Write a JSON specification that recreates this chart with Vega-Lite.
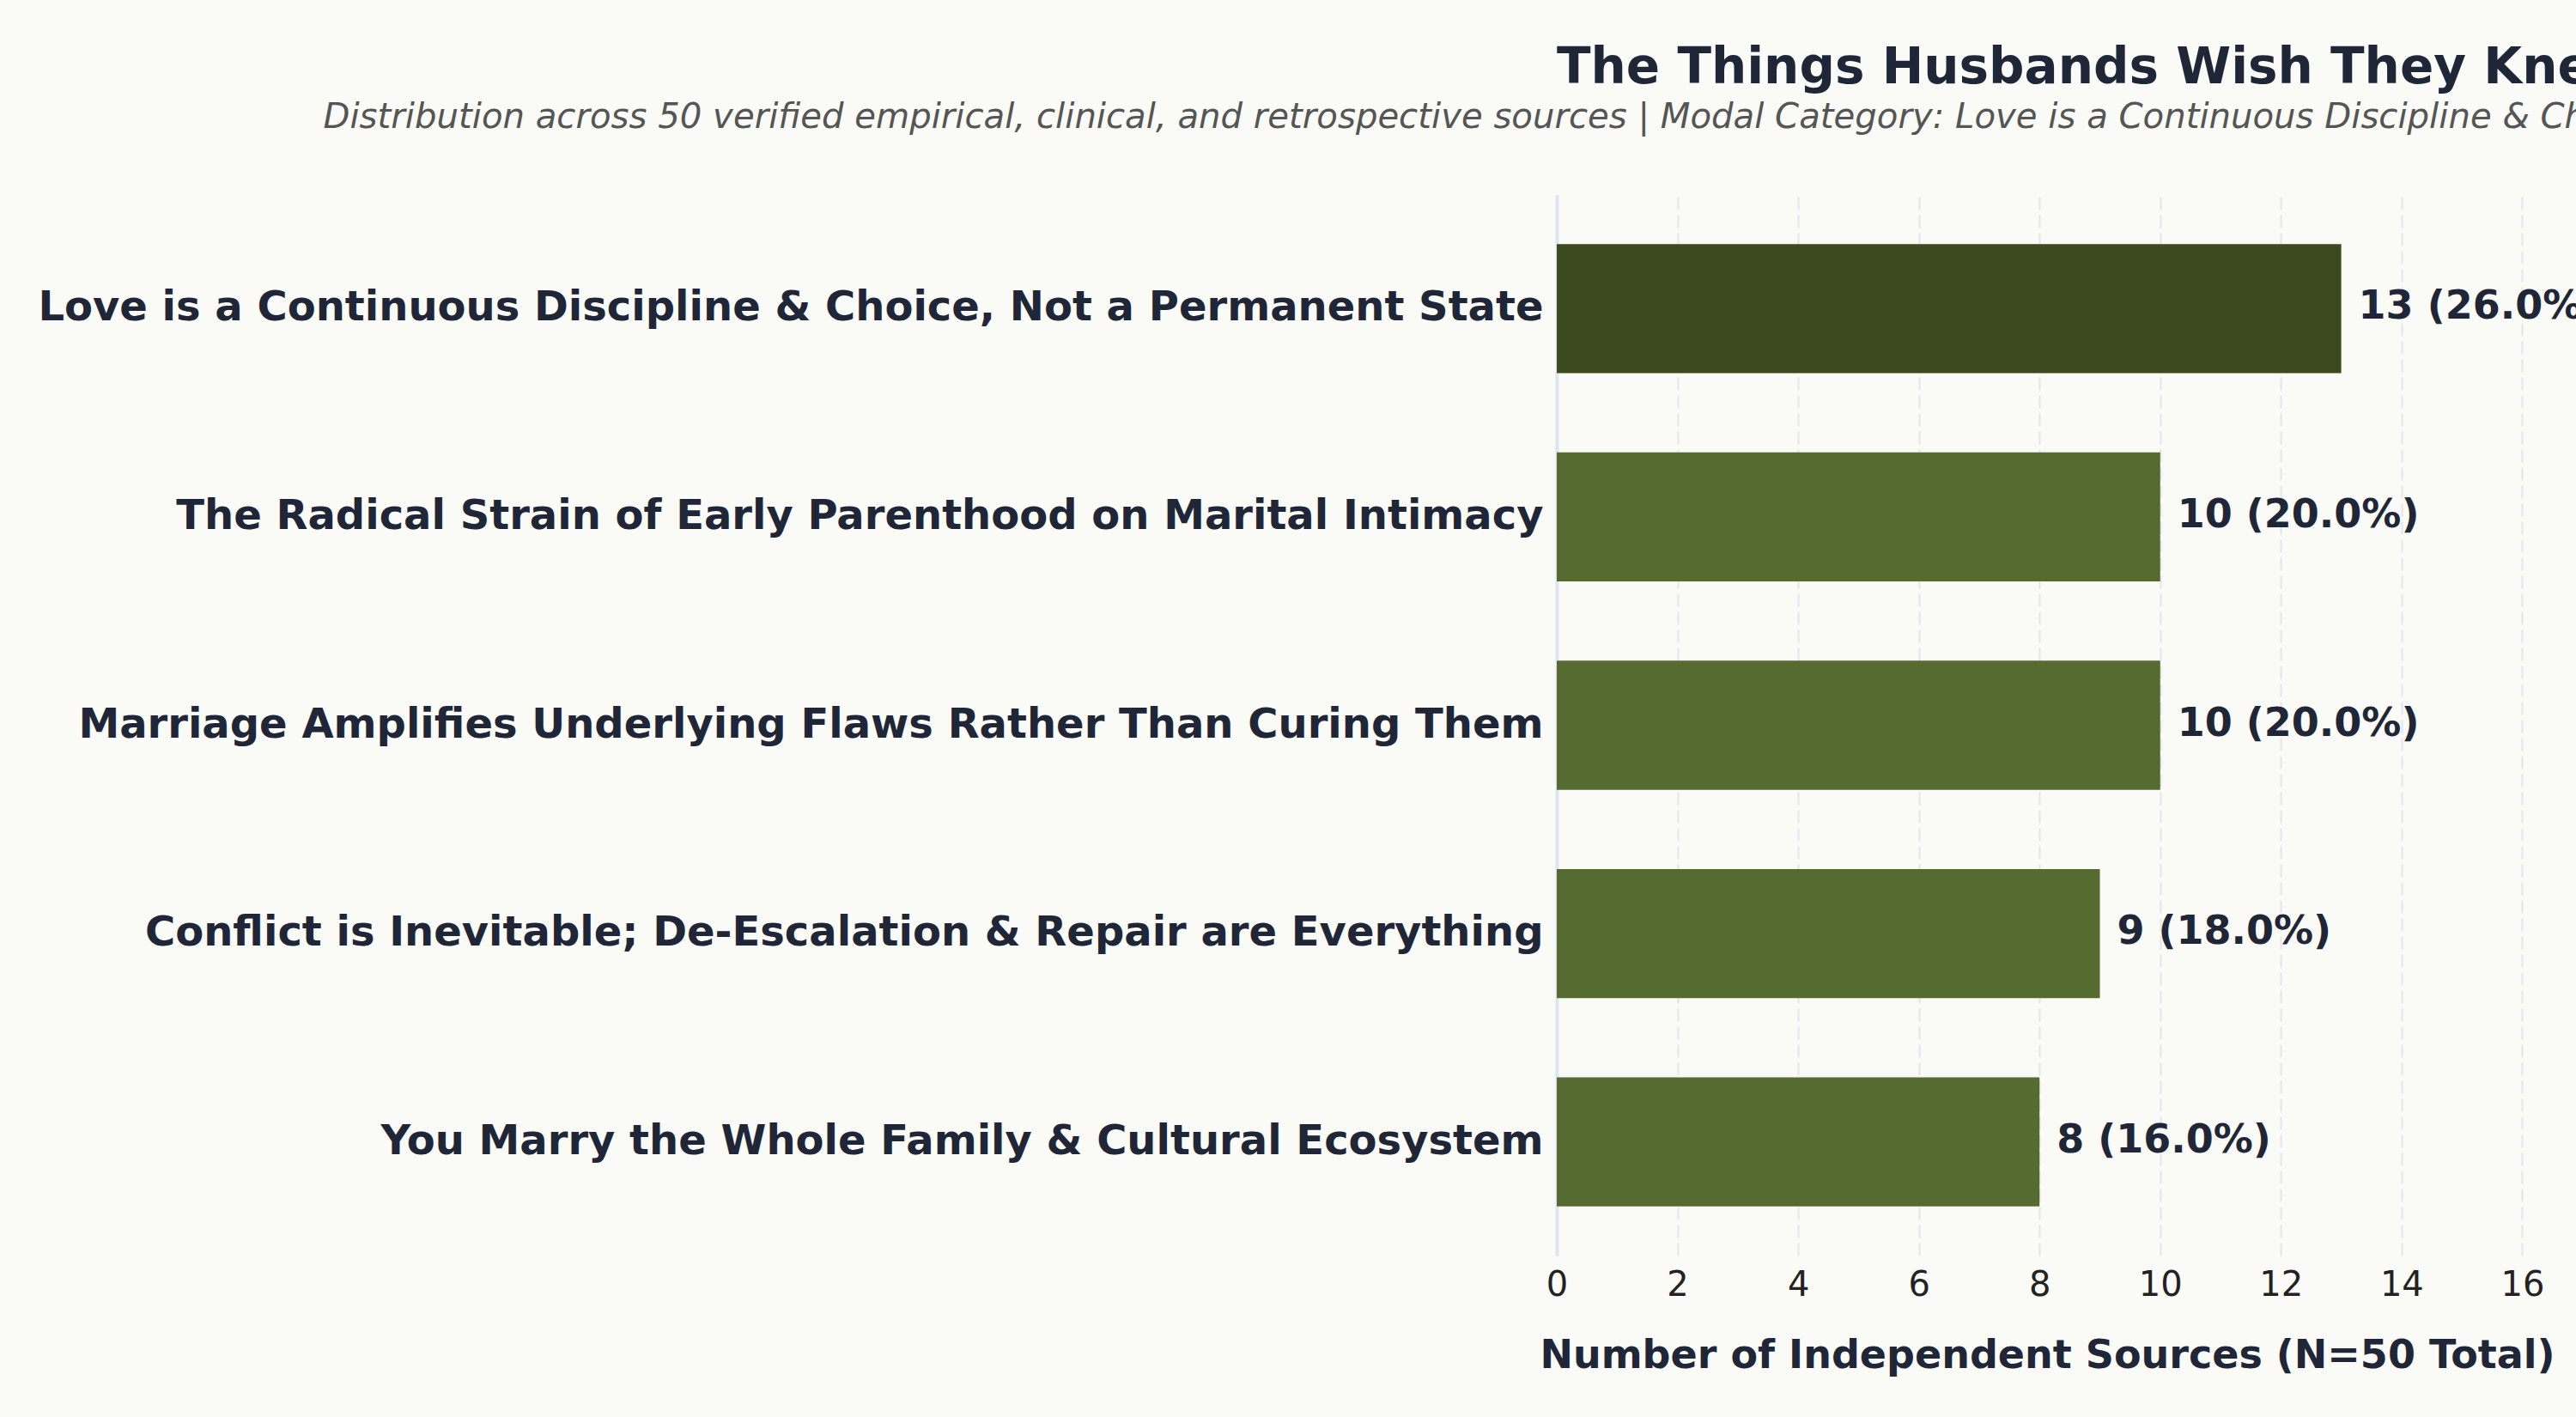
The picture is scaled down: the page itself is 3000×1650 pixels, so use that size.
{
  "$schema": "https://vega.github.io/schema/vega-lite/v6.json",
  "autosize": {"type": "none"},
  "padding": {"left": 1813, "top": 227, "right": 45, "bottom": 188},
  "width": 1142,
  "height": 1235,
  "background": "#fafaf6",
  "title": {
    "text": "The Things Husbands Wish They Knew Before Marriage",
    "anchor": "start",
    "frame": "group",
    "offset": 7,
    "font": "DejaVu Sans",
    "fontSize": 58,
    "fontWeight": "bold",
    "color": "#1f2637"
  },
  "data": {
    "values": [
      {"category": "Love is a Continuous Discipline & Choice, Not a Permanent State", "count": 13, "label": "13 (26.0%)", "group": "Modal"},
      {"category": "The Radical Strain of Early Parenthood on Marital Intimacy", "count": 10, "label": "10 (20.0%)", "group": "Other"},
      {"category": "Marriage Amplifies Underlying Flaws Rather Than Curing Them", "count": 10, "label": "10 (20.0%)", "group": "Other"},
      {"category": "Conflict is Inevitable; De-Escalation & Repair are Everything", "count": 9, "label": "9 (18.0%)", "group": "Other"},
      {"category": "You Marry the Whole Family & Cultural Ecosystem", "count": 8, "label": "8 (16.0%)", "group": "Other"}
    ]
  },
  "encoding": {
    "y": {
      "field": "category",
      "type": "nominal",
      "sort": null,
      "scale": {"paddingInner": 0.38, "paddingOuter": 0.2355},
      "axis": {
        "title": "Distribution across 50 verified empirical, clinical, and retrospective sources | Modal Category: Love is a Continuous Discipline & Choice, Not a Permanent State",
        "titleAngle": 0,
        "titleX": -1437,
        "titleY": -79,
        "titleAlign": "left",
        "titleBaseline": "alphabetic",
        "titleFont": "DejaVu Sans",
        "titleFontSize": 40.2,
        "titleFontStyle": "italic",
        "titleFontWeight": "normal",
        "titleColor": "#555555",
        "labelFont": "DejaVu Sans",
        "labelFontSize": 48,
        "labelFontWeight": "bold",
        "labelColor": "#1f2637",
        "labelLimit": 2500,
        "labelPadding": 16,
        "ticks": false,
        "domain": true,
        "domainColor": "#dfe5f0",
        "domainWidth": 4,
        "grid": false
      }
    },
    "x": {
      "field": "count",
      "type": "quantitative",
      "scale": {"domain": [0, 16.25], "nice": false, "zero": true},
      "axis": {
        "values": [0, 2, 4, 6, 8, 10, 12, 14, 16],
        "title": "Number of Independent Sources (N=50 Total)",
        "titleFont": "DejaVu Sans",
        "titleFontSize": 46,
        "titleFontWeight": "bold",
        "titleColor": "#1f2637",
        "titlePadding": 40,
        "labelFont": "DejaVu Sans",
        "labelFontSize": 40,
        "labelColor": "#222222",
        "labelPadding": 14,
        "labelFlush": false,
        "ticks": false,
        "domain": false,
        "grid": true,
        "gridColor": "#e2e5ef",
        "gridDash": [15, 6],
        "gridWidth": 2
      }
    }
  },
  "layer": [
    {
      "mark": {"type": "bar"},
      "encoding": {
        "color": {
          "field": "group",
          "type": "nominal",
          "scale": {"domain": ["Modal", "Other"], "range": ["#3b4b1d", "#566b30"]},
          "legend": null
        }
      }
    },
    {
      "mark": {
        "type": "text",
        "align": "left",
        "baseline": "middle",
        "dx": 20,
        "dy": -2,
        "font": "DejaVu Sans",
        "fontSize": 46,
        "fontWeight": "bold",
        "color": "#1f2637"
      },
      "encoding": {"text": {"field": "label"}}
    }
  ],
  "config": {"view": {"stroke": null}}
}
